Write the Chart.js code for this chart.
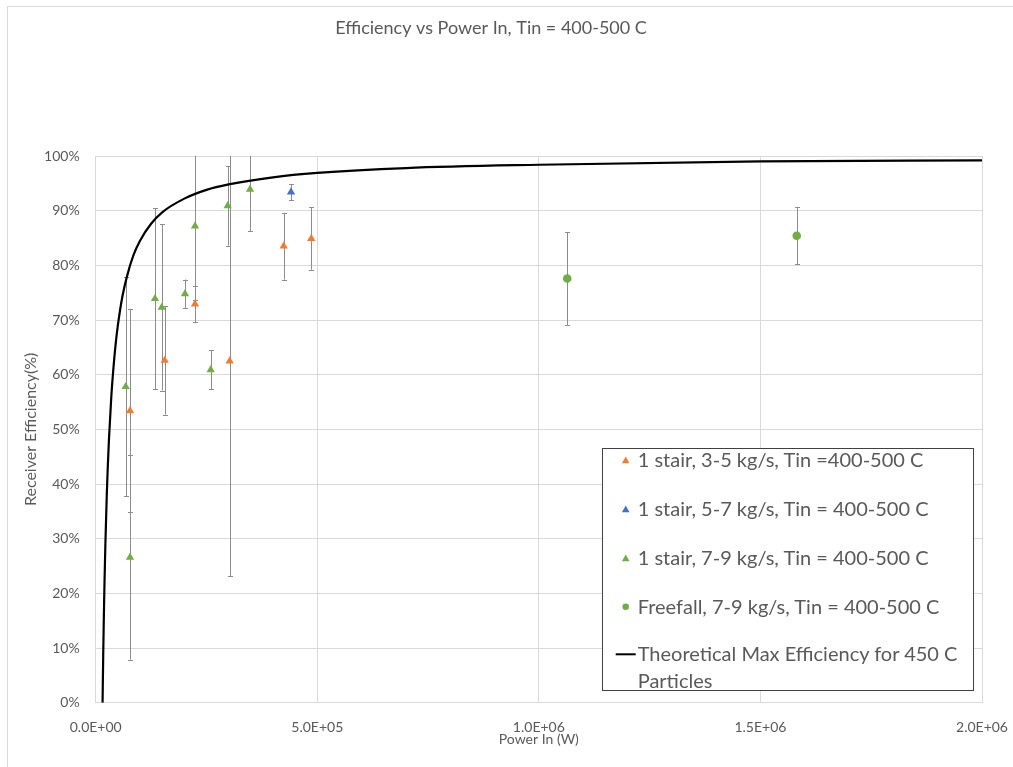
<!DOCTYPE html>
<html>
<head>
<meta charset="utf-8">
<script src="https://cdn.jsdelivr.net/npm/chart.js@4.4.1/dist/chart.umd.min.js"></script>
<style>
  html, body { margin: 0; padding: 0; background: #fff; }
  #wrap { position: relative; width: 1013px; height: 767px; overflow: hidden; }
  #frame { position: absolute; left: 7px; top: 6px; width: 1100px; height: 900px;
           border-left: 1px solid #d9d9d9; border-top: 1px solid #d9d9d9; pointer-events: none; }
  #c { position: absolute; left: 0; top: 0; }
  #legend { position: absolute; left: 602px; top: 448px; width: 370px; height: 241px;
            border: 1px solid #404040; background: #fff; font-family: Lato, "Open Sans", sans-serif;
            font-size: 20px; color: #595959; }
  #legend .item { position: absolute; left: 34.7px; white-space: nowrap; line-height: 24px; }
  #legend svg { position: absolute; left: 0; top: 0; }
</style>
</head>
<body>
<div id="wrap">
  <canvas id="c" width="1013" height="767"></canvas>
  <div id="frame"></div>
  <div id="legend"></div>
</div>
<script>
// ---------------- DATA ----------------
const chartTitle = 'Efficiency vs Power In, Tin = 400-500 C';
const xAxisTitle = 'Power In (W)';
const yAxisTitle = 'Receiver Efficiency(%)';
const xTickLabels = ['0.0E+00', '5.0E+05', '1.0E+06', '1.5E+06', '2.0E+06'];
const yTickLabels = ['0%', '10%', '20%', '30%', '40%', '50%', '60%', '70%', '80%', '90%', '100%'];

const seriesNames = [
  '1 stair, 3-5 kg/s, Tin =400-500 C',
  '1 stair, 5-7 kg/s, Tin = 400-500 C',
  '1 stair, 7-9 kg/s, Tin = 400-500 C',
  'Freefall, 7-9 kg/s, Tin = 400-500 C',
  'Theoretical Max Efficiency for 450 C Particles'
];

// 1 stair, 3-5 kg/s
const stair35X   = [77400, 155700, 224100, 302300, 424200, 486500];
const stair35Y   = [53.4, 62.6, 72.9, 62.5, 83.5, 84.9];
const stair35Err = [18.6, 9.9, 3.3, 39.3, 6.1, 5.7];

// 1 stair, 5-7 kg/s
const stair57X   = [440700];
const stair57Y   = [93.4];
const stair57Err = [1.45];

// 1 stair, 7-9 kg/s
const stair79X   = [67700, 77400, 133800, 148900, 201500, 224100, 259500, 297800, 348200];
const stair79Y   = [57.8, 26.6, 73.9, 72.3, 74.8, 87.2, 60.9, 90.9, 93.9];
const stair79Err = [20.0, 18.7, 16.6, 15.2, 2.6, 13.5, 3.6, 7.3, 7.7];

// Freefall, 7-9 kg/s
const freefallX   = [1064000, 1582000];
const freefallY   = [77.6, 85.4];
const freefallErr = [8.5, 5.2];

// Theoretical max efficiency curve
const theoryX = [15500, 16000, 17000, 18000, 19000, 20000, 22000, 25000, 27000, 30000, 35000, 40000,
                 45000, 50000, 60000, 70000, 85000, 100000, 125000, 150000, 200000, 250000, 300000,
                 400000, 500000, 700000, 1000000, 1500000, 2000000];
const theoryY = [0, 3.1, 8.8, 13.9, 18.4, 22.5, 29.5, 38.0, 42.6, 48.3, 55.7, 61.2,
                 65.6, 69.0, 74.2, 77.8, 81.8, 84.5, 87.6, 89.7, 92.2, 93.8, 94.8,
                 96.1, 96.9, 97.8, 98.4, 99.0, 99.2];

// ---------------- STYLE ----------------
const FONT = 'Lato, "Open Sans", sans-serif';
const TEXT = '#595959';
const GRID = '#d9d9d9';
const ORANGE = '#ED7D31', BLUE = '#4472C4', GREEN = '#70AD47';

const pts = (xs, ys) => xs.map((x, i) => ({ x: x, y: ys[i] }));

const errorBarPlugin = {
  id: 'errorBars',
  beforeDatasetsDraw(chart) {
    const ctx = chart.ctx, a = chart.chartArea;
    const xs = chart.scales.x, ys = chart.scales.y;
    ctx.save();
    ctx.beginPath();
    ctx.rect(a.left, a.top, a.right - a.left, a.bottom - a.top);
    ctx.clip();
    ctx.strokeStyle = '#8c8c8c';
    ctx.lineWidth = 1;
    chart.data.datasets.forEach(ds => {
      if (!ds.errors) return;
      ds.data.forEach((p, i) => {
        const e = ds.errors[i];
        const px = Math.round(xs.getPixelForValue(p.x)) + 0.5;
        const yTop = ys.getPixelForValue(p.y + e);
        const yBot = ys.getPixelForValue(p.y - e);
        ctx.beginPath();
        ctx.moveTo(px, yTop);
        ctx.lineTo(px, yBot);
        if (p.y + e <= 100) { ctx.moveTo(px - 2.5, Math.round(yTop) + 0.5); ctx.lineTo(px + 2.5, Math.round(yTop) + 0.5); }
        if (p.y - e >= 0) { ctx.moveTo(px - 2.5, Math.round(yBot) + 0.5); ctx.lineTo(px + 2.5, Math.round(yBot) + 0.5); }
        ctx.stroke();
      });
    });
    ctx.restore();
  }
};

const chart = new Chart(document.getElementById('c'), {
  type: 'scatter',
  data: {
    datasets: [
      { label: seriesNames[4], data: pts(theoryX, theoryY), showLine: true, borderColor: '#000',
        borderWidth: 2.2, pointRadius: 0, cubicInterpolationMode: 'monotone', order: 0 },
      { label: seriesNames[0], data: pts(stair35X, stair35Y), errors: stair35Err, pointStyle: 'triangle',
        pointRadius: 4.8, backgroundColor: ORANGE, borderColor: ORANGE, borderWidth: 0, order: 4 },
      { label: seriesNames[1], data: pts(stair57X, stair57Y), errors: stair57Err, pointStyle: 'triangle',
        pointRadius: 4.8, backgroundColor: BLUE, borderColor: BLUE, borderWidth: 0, order: 3 },
      { label: seriesNames[2], data: pts(stair79X, stair79Y), errors: stair79Err, pointStyle: 'triangle',
        pointRadius: 4.8, backgroundColor: GREEN, borderColor: GREEN, borderWidth: 0, order: 2 },
      { label: seriesNames[3], data: pts(freefallX, freefallY), errors: freefallErr, pointStyle: 'circle',
        pointRadius: 4.3, backgroundColor: GREEN, borderColor: GREEN, borderWidth: 0, order: 1 }
    ]
  },
  options: {
    responsive: false,
    animation: false,
    devicePixelRatio: 1,
    layout: { padding: { left: 0, right: 31, top: 0, bottom: 0 } },
    plugins: {
      legend: { display: false },
      tooltip: { enabled: false },
      title: { display: true, text: chartTitle, color: TEXT,
               font: { family: FONT, size: 18, weight: 'normal' },
               padding: { top: 17, bottom: 117.4 } }
    },
    scales: {
      x: {
        type: 'linear', min: 0, max: 2000000,
        afterFit(s) { s.height = 64.3; s.paddingLeft = 0; s.paddingRight = 0; },
        ticks: { stepSize: 500000, color: TEXT, font: { family: FONT, size: 14 }, padding: 16,
                 maxRotation: 0, callback: (v, i) => xTickLabels[i] },
        grid: { color: GRID, lineWidth: 1, drawTicks: false },
        border: { color: GRID },
        title: { display: true, text: xAxisTitle, color: TEXT, font: { family: FONT, size: 14 },
                 padding: { top: 0, bottom: 19.6 } }
      },
      y: {
        type: 'linear', min: 0, max: 100,
        afterFit(s) { s.width = 95.7; s.paddingTop = 0; s.paddingBottom = 0; },
        ticks: { stepSize: 10, color: TEXT, font: { family: FONT, size: 14 }, padding: 16,
                 callback: (v, i) => yTickLabels[i] },
        grid: { color: GRID, lineWidth: 1, drawTicks: false },
        border: { color: GRID },
        title: { display: true, text: yAxisTitle, color: TEXT, font: { family: FONT, size: 16 },
                 padding: { top: 21.4, bottom: 0 } }
      }
    }
  },
  plugins: [errorBarPlugin]
});

// ---------------- HTML LEGEND ----------------
const legend = document.getElementById('legend');
const legendRows = [
  { name: seriesNames[0], kind: 'tri', color: ORANGE, cy: 11.3 },
  { name: seriesNames[1], kind: 'tri', color: BLUE, cy: 60.3 },
  { name: seriesNames[2], kind: 'tri', color: GREEN, cy: 109.3 },
  { name: seriesNames[3], kind: 'dot', color: GREEN, cy: 157.7 },
  { name: seriesNames[4], kind: 'line', color: '#000', cy: 205.3 }
];
let svg = '<svg width="370" height="241" xmlns="http://www.w3.org/2000/svg">';
legendRows.forEach(r => {
  const cx = 22.7;
  if (r.kind === 'tri') svg += `<polygon points="${cx - 3.8},${r.cy + 3} ${cx + 3.8},${r.cy + 3} ${cx},${r.cy - 3.8}" fill="${r.color}"/>`;
  if (r.kind === 'dot') svg += `<circle cx="${cx}" cy="${r.cy}" r="3.3" fill="${r.color}"/>`;
  if (r.kind === 'line') svg += `<line x1="12.7" x2="32.7" y1="${r.cy}" y2="${r.cy}" stroke="#000" stroke-width="2"/>`;
});
svg += '</svg>';
legend.innerHTML = svg;
legendRows.forEach((r, i) => {
  const d = document.createElement('div');
  d.className = 'item';
  d.style.top = (r.cy - 13) + 'px';
  if (i === 4) {
    d.innerHTML = 'Theoretical Max Efficiency for 450 C<br>Particles';
    d.style.lineHeight = '27.4px';
    d.style.top = (r.cy - 14.7) + 'px';
  } else {
    d.textContent = r.name;
  }
  legend.appendChild(d);
});
</script>
</body>
</html>
